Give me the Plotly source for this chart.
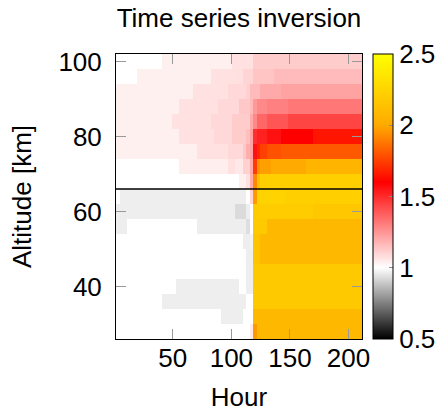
import plotly.graph_objects as go

# Hour bins (3-hour resolution, bin centres) and altitude bins (4 km, centres)
hours = list(range(3, 211, 3))
altitudes = [100, 96, 92, 88, 84, 80, 76, 72, 68, 64, 60, 56, 52, 48, 44, 40, 36, 32, 28]

# Values per altitude row: (first hour-bin index, value) segments
row_segments = {
    100: [(0, 1.0), (13, 1.035), (33, 1.07), (39, 1.12)],
    96: [(0, 1.0), (6, 1.035), (27, 1.07), (34, 1.075), (36, 1.10), (39, 1.14), (45, 1.16)],
    92: [(0, 1.035), (22, 1.07), (32, 1.09), (37, 1.11), (38, 1.16), (41, 1.2), (47, 1.22)],
    88: [(0, 1.035), (18, 1.07), (29, 1.09), (35, 1.13), (38, 1.16), (39, 1.24), (40, 1.28), (43, 1.30), (49, 1.32)],
    84: [(0, 1.035), (16, 1.07), (27, 1.09), (33, 1.12), (38, 1.2), (39, 1.28), (40, 1.36), (43, 1.40), (49, 1.44)],
    80: [(0, 1.035), (18, 1.07), (28, 1.09), (33, 1.12), (37, 1.15), (38, 1.22), (39, 1.49), (40, 1.525), (43, 1.56), (47, 1.6), (56, 1.65)],
    76: [(0, 1.035), (23, 1.07), (32, 1.09), (36, 1.13), (37, 1.19), (38, 1.22), (39, 1.56), (40, 1.69), (41, 1.75), (43, 1.79), (47, 1.81)],
    72: [(0, 1.0), (18, 1.04), (32, 1.07), (34, 1.054), (36, 1.11), (38, 1.2), (39, 1.74), (40, 1.94), (41, 1.976), (44, 2.0), (54, 2.06)],
    68: [(0, 1.0), (35, 1.035), (37, 1.073), (38, 1.19), (39, 1.92), (40, 2.13), (41, 2.22)],
    64: [(0, 1.0), (1, 0.967), (37, 1.0), (38, 1.1), (39, 1.96), (40, 2.24), (48, 2.22)],
    60: [(0, 0.967), (34, 0.93), (37, 0.967), (38, 1.0), (39, 2.18), (40, 2.2), (56, 2.17)],
    56: [(0, 0.967), (3, 1.0), (23, 0.967), (37, 0.935), (38, 1.0), (39, 2.18), (43, 2.08)],
    52: [(0, 1.0), (36, 0.967), (38, 0.975), (39, 2.15), (41, 2.08)],
    48: [(0, 1.0), (37, 0.967), (39, 2.15), (41, 2.08)],
    44: [(0, 1.0), (37, 0.967), (39, 2.18)],
    40: [(0, 1.0), (17, 0.967), (35, 1.0), (37, 0.967), (39, 2.18)],
    36: [(0, 1.0), (13, 0.967), (37, 1.0), (39, 2.18)],
    32: [(0, 1.0), (30, 0.967), (36, 1.0), (39, 2.08)],
    28: [(0, 1.0), (38, 1.05), (39, 1.96), (40, 2.08)],
}

boundary_altitude = 66
x_ticks = [50, 100, 150, 200]
y_ticks = [40, 60, 80, 100]
cbar_ticks = [0.5, 1, 1.5, 2, 2.5]

# Expand the segment table into the grid the heatmap needs
z = []
for alt in altitudes:
    segs = row_segments[alt]
    row = []
    for i in range(len(hours)):
        val = segs[0][1]
        for start, v in segs:
            if i >= start:
                val = v
        row.append(val)
    z.append(row)

FONT = "Liberation Sans"

colorscale = [
    [0.0, "#000000"],
    [0.25, "#ffffff"],
    [0.55, "#ff0000"],
    [0.75, "#ffaa00"],
    [1.0, "#ffff00"],
]

fig = go.Figure(
    go.Heatmap(
        x=hours,
        y=altitudes,
        z=z,
        zmin=0.5,
        zmax=2.5,
        colorscale=colorscale,
        colorbar=dict(
            x=(373 - 116) / 246,
            xanchor="left",
            xpad=0,
            y=0.5,
            yanchor="middle",
            ypad=0,
            len=1,
            lenmode="fraction",
            thickness=20,
            outlinecolor="black",
            outlinewidth=1,
            tickvals=cbar_ticks,
            ticks="inside",
            ticklen=4,
            tickcolor="#888888",
            tickfont=dict(family=FONT, size=26, color="black"),
        ),
    )
)

fig.add_hline(y=boundary_altitude, line=dict(color="black", width=1.3))

axis_common = dict(
    showline=True,
    linecolor="black",
    linewidth=1,
    mirror="ticks",
    ticks="inside",
    ticklen=10,
    tickcolor="#999999",
    tickwidth=1,
    showgrid=False,
    zeroline=False,
    tickfont=dict(family=FONT, size=26, color="black"),
)

fig.update_xaxes(
    range=[1.5, 211.5],
    tickvals=x_ticks,
    ticklabelstandoff=-4,
    title=dict(text="Hour", font=dict(family=FONT, size=26, color="black"), standoff=24),
    **axis_common,
)
fig.update_yaxes(
    range=[26, 102],
    tickvals=y_ticks,
    ticklabelstandoff=8,
    title=dict(text="Altitude [km]", font=dict(family=FONT, size=26, color="black"), standoff=19),
    **axis_common,
)

fig.update_layout(
    width=442,
    height=412,
    margin=dict(l=116, r=80, t=54, b=73, autoexpand=False),
    paper_bgcolor="white",
    plot_bgcolor="white",
    title=dict(
        text="Time series inversion",
        font=dict(family=FONT, size=26, color="black"),
        x=(116 + 362) / 2 / 442,
        xanchor="center",
        y=1 - 18 / 412,
        yanchor="middle",
        yref="container",
    ),
)

fig.write_html("out.html")
